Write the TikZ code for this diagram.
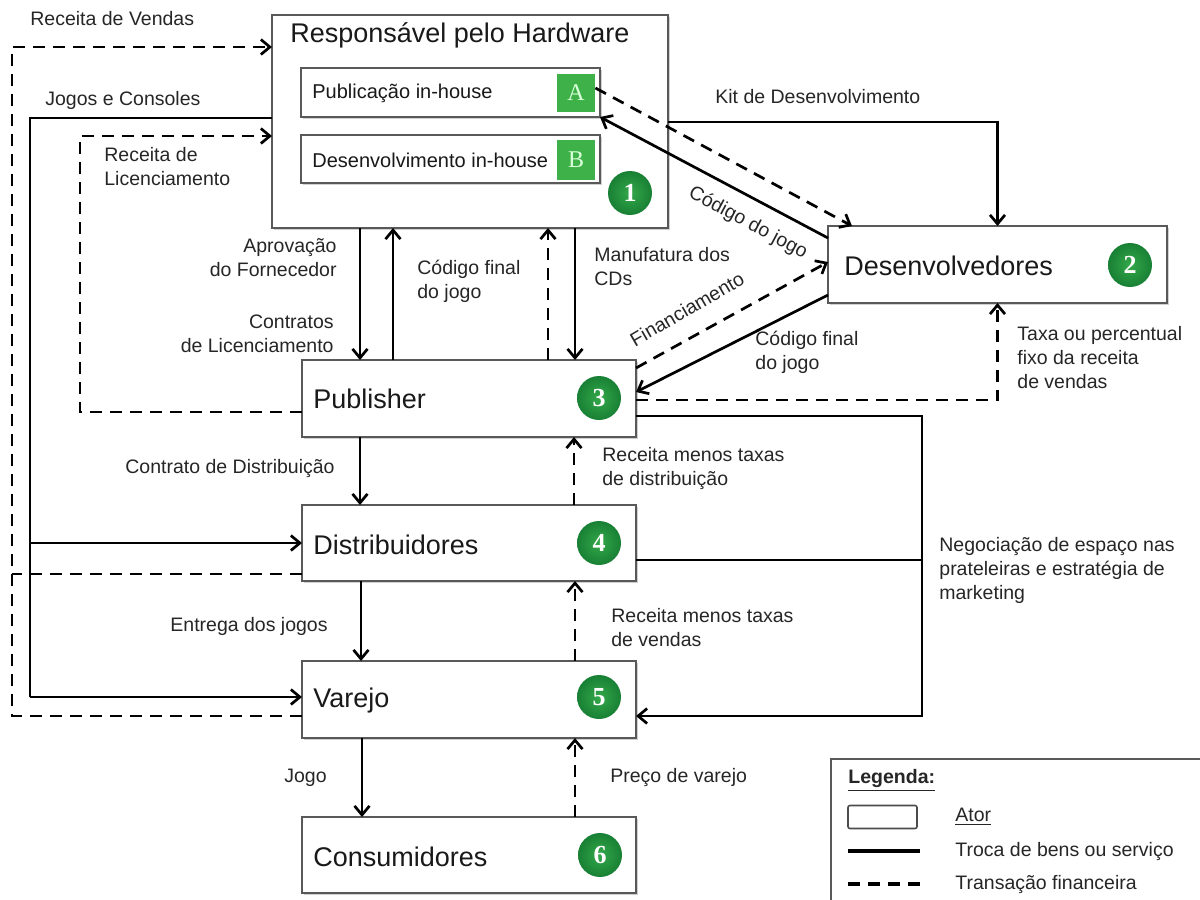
\documentclass[tikz,border=0pt]{standalone}
\usepackage{fontspec}
\setmainfont{Liberation Sans}
\newfontfamily\numfont{Liberation Serif}
\usetikzlibrary{arrows.meta,calc,shadows}
\definecolor{dgreen}{RGB}{24,128,52}
\definecolor{lgreen}{RGB}{52,168,74}
\definecolor{sqgreen}{RGB}{62,178,72}
\tikzset{
 box/.style={draw=black!65, line width=0.9pt, fill=white, inner sep=0pt, outer sep=0pt,
   drop shadow={shadow xshift=0.8pt,shadow yshift=-0.8pt,opacity=0.3,fill=black!60}},
 lab/.style={font=\fontsize{9.75}{12}\selectfont, text=black!85, inner sep=0pt, align=left},
 big/.style={font=\fontsize{13.5}{16}\selectfont, text=black!90, inner sep=0pt},
 small/.style={font=\fontsize{10}{12}\selectfont, text=black!90, inner sep=0pt},
 sol/.style={line width=1.35pt, draw=black},
 dsh/.style={line width=1.35pt, draw=black, dash pattern=on 6pt off 4pt},
 num/.style={circle, minimum size=22pt, inner sep=0pt, shading=radial, inner color=lgreen, outer color=dgreen,
   text=white, font=\numfont\bfseries\fontsize{13}{13}\selectfont},
 sq/.style={minimum size=19pt, inner sep=0pt, fill=sqgreen, text=green!15!white, font=\numfont\fontsize{12}{12}\selectfont},
}
\begin{document}
\begin{tikzpicture}[x=0.5pt,y=-0.5pt,>={Straight Barb[length=4.5pt,width=7.5pt]}]
\useasboundingbox (0,0) rectangle (1200,900);
\fill[white] (0,0) rectangle (1200,900);
% boxes
\node[box, minimum width=198pt, minimum height=106.5pt] (hw) at (470,121.5) {};
\node[big, anchor=west] (hwt) at (290,35) {Responsável pelo Hardware};
\node[box, minimum width=149.5pt, minimum height=24.5pt] (pa) at (450.5,92.5) {};
\node[box, minimum width=149.5pt, minimum height=24pt] (db) at (450.5,159) {};
\node[sq, minimum height=19pt] (sa) at (576,93) {A};
\node[sq, minimum height=20pt] (sb) at (576,160) {B};
\node[small, anchor=west] (pat) at (312,93) {Publicação in-house};
\node[small, anchor=west] (dbt) at (312,160) {Desenvolvimento in-house};
\node[num] (n1) at (630,193) {1};

\node[box, minimum width=169.5pt, minimum height=38.5pt] (dev) at (997.5,264.5) {};
\node[big, anchor=west] (devt) at (844,266) {Desenvolvedores};
\node[num] (n2) at (1130,265) {2};

\node[box, minimum width=167pt, minimum height=38.5pt] (pub) at (469,398.5) {};
\node[big, anchor=west] (pubt) at (313,399) {Publisher};
\node[num] (n3) at (599,398) {3};

\node[box, minimum width=167pt, minimum height=38pt] (dis) at (469,543) {};
\node[big, anchor=west] (dist) at (313,545) {Distribuidores};
\node[num] (n4) at (599,543) {4};

\node[box, minimum width=167pt, minimum height=38.5pt] (var) at (469,699.5) {};
\node[big, anchor=west] (vart) at (313,701) {Varejo};
\node[num] (n5) at (599,697) {5};

\node[box, minimum width=167pt, minimum height=38pt] (con) at (469,855) {};
\node[big, anchor=west] (cont) at (313,857) {Consumidores};
\node[num] (n6) at (600,855) {6};

% left loops
\coordinate (lo) at (12,47);
\coordinate (dl) at (12,574);
\draw[dsh,->] (var.west|-0,716) -| (lo) -- (hw.west|-0,47);
\draw[dsh] (dis.west|-0,574) -- (dl);
\coordinate (jl) at (30,697);
\coordinate (jm) at (30,543);
\draw[sol] (hw.west|-0,118) -| (jl);
\draw[sol,->] (jl) -- (var.west|-0,697);
\draw[sol,->] (jm) -- (dis.west);
\coordinate (rl) at (80,136);
\draw[dsh,->] (pub.west|-0,412) -| (rl) -- (hw.west|-0,136);

% hardware <-> publisher
\draw[sol,->] (hw.south -| 360,0) -- (pub.north -| 360,0);
\draw[sol,->] (pub.north -| 393,0) -- (hw.south -| 393,0);
\draw[dsh,->] (pub.north -| 548,0) -- (hw.south -| 548,0);
\draw[sol,->] (hw.south -| 575,0) -- (pub.north -| 575,0);

% hardware <-> developers
\draw[sol,->] (hw.east|-0,122) -| (dev.north);
\draw[sol,->] (dev.west|-0,238) -- (pa.south east);
\draw[dsh,->] (sa.east|-0,88) -- (dev.north -| 852,0);

% publisher <-> developers
\draw[dsh,->] (pub.east|-0,368) -- (dev.west|-0,262);
\draw[sol,->] (dev.west|-0,295) -- (pub.east|-0,392);
\draw[dsh,->] (pub.east|-0,400) -| (dev.south);

% chain
\draw[sol,->] (pub.south -| 360,0) -- (dis.north -| 360,0);
\draw[dsh,->] (dis.north -| 574,0) -- (pub.south -| 574,0);
\draw[sol,->] (dis.south -| 361,0) -- (var.north -| 361,0);
\draw[dsh,->] (var.north -| 575,0) -- (dis.south -| 575,0);
\draw[sol,->] (var.south -| 362,0) -- (con.north -| 362,0);
\draw[dsh,->] (con.north -| 575,0) -- (var.south -| 575,0);

% negotiation
\coordinate (nr) at (922,716);
\coordinate (nm) at (922,560);
\draw[sol,->] (pub.east|-0,416) -| (nr) -- (var.east|-0,716);
\draw[sol] (dis.east|-0,560) -- (nm);

% labels
\node[lab, anchor=west] (l1) at (30,19) {Receita de Vendas};
\node[lab, anchor=west] (l2) at (45,100) {Jogos e Consoles};
\node[lab, anchor=west] (l3) at (104,167) {Receita de\\Licenciamento};
\node[lab, anchor=east, align=right] (l4) at (337,258) {Aprovação\\do Fornecedor};
\node[lab, anchor=east, align=right] (l5) at (334,334) {Contratos\\de Licenciamento};
\node[lab, anchor=west] (l6) at (417,281) {Código final\\do jogo};
\node[lab, anchor=west] (l7) at (594,267) {Manufatura dos\\CDs};
\node[lab, anchor=west] (l8) at (715,97) {Kit de Desenvolvimento};
\node[lab, rotate=-28] (l9) at (748,223) {Código do jogo};
\node[lab, rotate=30] (l10) at (687,309) {Financiamento};
\node[lab, anchor=west] (l11) at (755,352) {Código final\\do jogo};
\node[lab, anchor=west] (l12) at (1017,358) {Taxa ou percentual\\fixo da receita\\de vendas};
\node[lab, anchor=east] (l13) at (335,468) {Contrato de Distribuição};
\node[lab, anchor=west] (l14) at (602,468) {Receita menos taxas\\de distribuição};
\node[lab, anchor=west] (l15) at (939,570) {Negociação de espaço nas\\prateleiras e estratégia de\\marketing};
\node[lab, anchor=east] (l16) at (328,626) {Entrega dos jogos};
\node[lab, anchor=west] (l17) at (611,628) {Receita menos taxas\\de vendas};
\node[lab, anchor=west] (l18) at (284,778) {Jogo};
\node[lab, anchor=west] (l19) at (610,777) {Preço de varejo};

% legend
\node[draw=black!65, line width=0.9pt, minimum width=190pt, minimum height=75pt, inner sep=0pt, anchor=north west] (leg) at (830,758) {};
\node[lab, anchor=west, font=\bfseries\fontsize{9.75}{12}\selectfont] (legt) at (848,780) {\underline{Legenda:}};
\node[draw=black!70, line width=0.8pt, rounded corners=1pt, minimum width=34.5pt, minimum height=11.5pt, inner sep=0pt] (legb) at (882.5,817) {};
\node[lab, anchor=west] (lega) at (955,817) {\underline{Ator}};
\coordinate (ls1) at (848,851);
\coordinate (ls2) at (920,851);
\draw[sol, line width=1.6pt] (ls1) -- (ls2);
\node[lab, anchor=west] (legs) at (955,851) {Troca de bens ou serviço};
\coordinate (ld1) at (848,884);
\coordinate (ld2) at (922,884);
\draw[dsh, line width=1.6pt] (ld1) -- (ld2);
\node[lab, anchor=west] (legd) at (955,884) {Transação financeira};
\end{tikzpicture}
\end{document}
